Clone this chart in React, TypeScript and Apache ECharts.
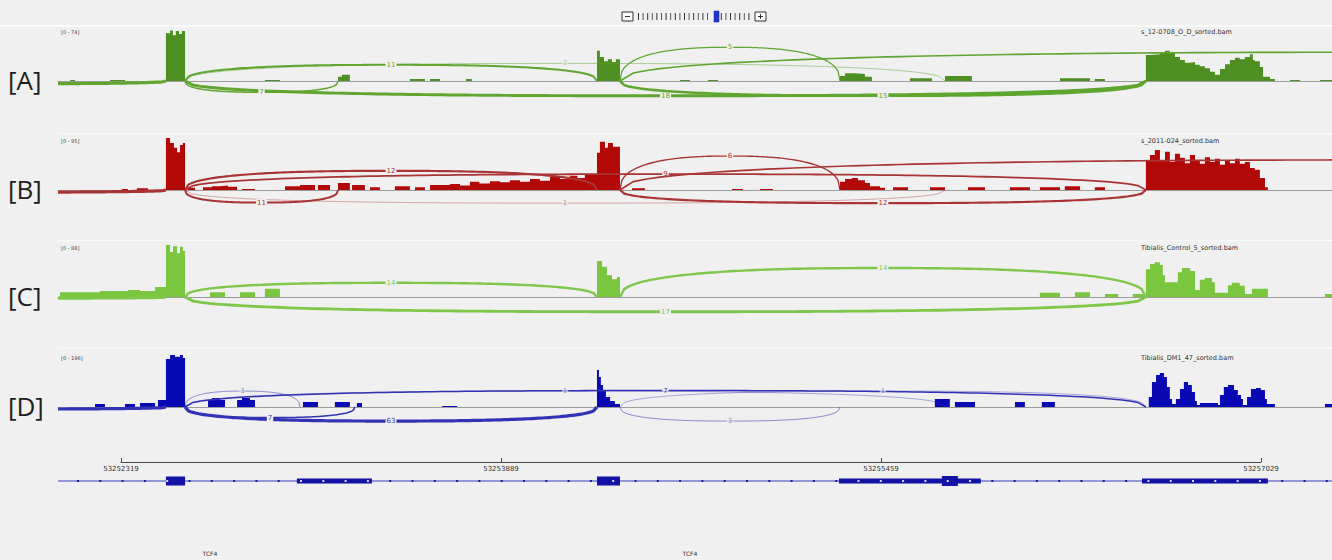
import React, { useEffect, useRef } from "react";
import * as echarts from "echarts";

// ---------------- data ----------------
const X_MIN = 53252059;
const X_MAX = 53257323;
const RULER_TICKS = [53252319, 53253889, 53255459, 53257029];
const TRACK_TAGS = ["[A]", "[B]", "[C]", "[D]"];
const TRACK_NAMES = [
  "s_12-0708_O_D_sorted.bam",
  "s_2011-024_sorted.bam",
  "Tibialis_Control_5_sorted.bam",
  "Tibialis_DM1_47_sorted.bam",
];
const DATA_RANGE_MAX = [74, 95, 88, 196];
const GENE_NAMES = ["TCF4", "TCF4"];

// coverage: [genomic position, read depth] (depth holds until the next position)
const COVERAGE_A = [
  [53252059, 0], [53252109, 1.5], [53252129, 0], [53252274, 1.5], [53252336, 0],
  [53252505, 68], [53252522, 72], [53252534, 65], [53252546, 71], [53252559, 67], [53252571, 71], [53252584, 0],
  [53252914, 1.5], [53252976, 0], [53253216, 6], [53253232, 9], [53253265, 0],
  [53253513, 3], [53253575, 0], [53253596, 3], [53253637, 0], [53253745, 3], [53253769, 0],
  [53254286, 43], [53254298, 34], [53254315, 28], [53254331, 31], [53254348, 27], [53254364, 31], [53254381, 0],
  [53254629, 1.5], [53254670, 0], [53254745, 1.5], [53254786, 0],
  [53255290, 7], [53255311, 11], [53255352, 10], [53255393, 6], [53255422, 0],
  [53255579, 4], [53255670, 0], [53255724, 7], [53255835, 0],
  [53256199, 4], [53256323, 0], [53256343, 3], [53256385, 0],
  [53256554, 37], [53256571, 38], [53256612, 40], [53256633, 43], [53256653, 41], [53256674, 34],
  [53256695, 30], [53256715, 26], [53256736, 27], [53256757, 23], [53256777, 21], [53256798, 18],
  [53256819, 13], [53256839, 9], [53256860, 17], [53256881, 24], [53256901, 30], [53256922, 33],
  [53256942, 31], [53256963, 34], [53256984, 38], [53256996, 30], [53257004, 28], [53257025, 20],
  [53257038, 6], [53257067, 3], [53257087, 0], [53257149, 1.5], [53257190, 0], [53257273, 1.5], [53257323, 1.5],
];
const COVERAGE_B = [
  [53252059, 0], [53252323, 2], [53252348, 0], [53252385, 3], [53252431, 0],
  [53252505, 95], [53252522, 86], [53252538, 77], [53252551, 69], [53252563, 82], [53252575, 86], [53252584, 0],
  [53252596, 4], [53252625, 0], [53252658, 5], [53252695, 7], [53252728, 8], [53252761, 6], [53252799, 0],
  [53252819, 2], [53252873, 0], [53252997, 7], [53253059, 9], [53253121, 0], [53253133, 9], [53253183, 0],
  [53253216, 13], [53253265, 0], [53253274, 9], [53253327, 0], [53253348, 5], [53253389, 0],
  [53253451, 7], [53253513, 0], [53253534, 5], [53253575, 0],
  [53253596, 9], [53253679, 11], [53253720, 8], [53253761, 15], [53253800, 12], [53253844, 16], [53253885, 14],
  [53253926, 18], [53253968, 15], [53254009, 20], [53254050, 17], [53254092, 24], [53254133, 20],
  [53254174, 26], [53254205, 22], [53254236, 28],
  [53254286, 68], [53254298, 88], [53254319, 77], [53254331, 86], [53254352, 79], [53254381, 0],
  [53254431, 3], [53254484, 0], [53254844, 2], [53254889, 0], [53254959, 2], [53255013, 0],
  [53255290, 15], [53255311, 20], [53255339, 22], [53255364, 18], [53255393, 13], [53255414, 7], [53255455, 4], [53255476, 0],
  [53255509, 5], [53255571, 0], [53255662, 5], [53255724, 0], [53255819, 5], [53255889, 0],
  [53255992, 5], [53256075, 0], [53256116, 5], [53256199, 0], [53256219, 7], [53256282, 0], [53256343, 5], [53256385, 0],
  [53256554, 55], [53256571, 64], [53256591, 73], [53256612, 55], [53256633, 70], [53256653, 51], [53256674, 66],
  [53256695, 59], [53256715, 49], [53256736, 64], [53256757, 55], [53256777, 48], [53256798, 60], [53256819, 51],
  [53256839, 57], [53256860, 46], [53256881, 55], [53256901, 49], [53256922, 57], [53256942, 48], [53256963, 51],
  [53256984, 40], [53257004, 37], [53257025, 22], [53257046, 5], [53257058, 0], [53257323, 0],
];
const COVERAGE_C = [
  [53252059, 0], [53252067, 8], [53252233, 10], [53252348, 12], [53252398, 10], [53252460, 17],
  [53252505, 88], [53252522, 76], [53252534, 86], [53252551, 74], [53252563, 85], [53252575, 78], [53252584, 0],
  [53252687, 8], [53252749, 0], [53252811, 8], [53252873, 0], [53252914, 14], [53252976, 0],
  [53254286, 61], [53254307, 51], [53254327, 37], [53254348, 30], [53254369, 34], [53254381, 0],
  [53256116, 7], [53256199, 0], [53256261, 8], [53256323, 0], [53256385, 5], [53256439, 0], [53256500, 5],
  [53256554, 47], [53256571, 56], [53256591, 59], [53256612, 54], [53256624, 37], [53256633, 25], [53256686, 42],
  [53256703, 49], [53256736, 44], [53256757, 12], [53256777, 29], [53256798, 32], [53256827, 25], [53256839, 7],
  [53256893, 20], [53256909, 24], [53256942, 19], [53256963, 5], [53256992, 14], [53257058, 0],
  [53257294, 5], [53257323, 5],
];
const COVERAGE_D = [
  [53252059, 0], [53252212, 11], [53252253, 0], [53252336, 11], [53252377, 0], [53252398, 15], [53252460, 0],
  [53252472, 26], [53252505, 181], [53252522, 196], [53252542, 189], [53252563, 196], [53252575, 185], [53252584, 0],
  [53252679, 26], [53252695, 34], [53252728, 26], [53252749, 0], [53252799, 26], [53252819, 34], [53252852, 26], [53252873, 0],
  [53253071, 19], [53253133, 0], [53253203, 19], [53253265, 0], [53253294, 15], [53253315, 0], [53253646, 4], [53253708, 0],
  [53254286, 139], [53254294, 113], [53254302, 83], [53254311, 60], [53254323, 38], [53254340, 23], [53254360, 11], [53254381, 0],
  [53255682, 30], [53255744, 0], [53255765, 19], [53255848, 0], [53256013, 19], [53256054, 0], [53256124, 19], [53256178, 0],
  [53256566, 38], [53256579, 94], [53256596, 121], [53256612, 128], [53256629, 113], [53256641, 75], [53256653, 30], [53256662, 11],
  [53256678, 30], [53256695, 68], [53256711, 94], [53256728, 83], [53256744, 57], [53256757, 23], [53256765, 8], [53256777, 15],
  [53256852, 8], [53256860, 45], [53256876, 75], [53256893, 83], [53256918, 64], [53256934, 45], [53256947, 30], [53256955, 8],
  [53256972, 38], [53256988, 68], [53257009, 72], [53257029, 64], [53257046, 30], [53257054, 11], [53257087, 0],
  [53257294, 11], [53257323, 11],
];

// junctions: [donor, acceptor, split reads, arc height in depth units (negative = drawn below)]
const JUNCTIONS_A = [
  [53250900, 53252505, 20, -4],
  [53252584, 53256554, 18, -21],
  [53254381, 53256554, 15, -21],
  [53252584, 53255724, 2, 25],
  [53252584, 53254286, 11, 23],
  [53252584, 53253216, 7, -16],
  [53254381, 53255290, 5, 48],
  [53254381, 53261000, 8, 41],
];
const JUNCTIONS_B = [
  [53250900, 53252505, 20, -4],
  [53252584, 53256554, 9, 29],
  [53252584, 53254286, 12, 35],
  [53252584, 53255724, 1, -24],
  [53254381, 53256554, 12, -24],
  [53252584, 53253216, 11, -23],
  [53254381, 53255290, 6, 62],
  [53254381, 53261000, 8, 55],
];
const JUNCTIONS_C = [
  [53250900, 53252505, 20, -2],
  [53252584, 53256554, 17, -25],
  [53252584, 53254286, 14, 24],
  [53254381, 53256554, 14, 49],
];
const JUNCTIONS_D = [
  [53250900, 53252505, 30, -8],
  [53252584, 53256554, 7, 62],
  [53252584, 53255724, 1, 60],
  [53254381, 53256554, 1, 60],
  [53252584, 53253059, 3, 60],
  [53252584, 53254286, 63, -53],
  [53252584, 53253286, 7, -40],
  [53254381, 53255290, 3, -53],
];

// gene model exons: [start, end, kind] (0 = UTR/thin, 1 = coding, 2 = coding thick)
const EXONS = [
  [53252505, 53252584, 1],
  [53253046, 53253356, 0],
  [53254286, 53254381, 1],
  [53255286, 53255872, 0],
  [53255711, 53255777, 2],
  [53256538, 53257058, 0],
];

// ---------------- styles ----------------
const BG = "#f0f0f0";
const COV_COLORS = ["#4e8f22", "#b20808", "#7ac63e", "#0a0ab4"];
const ARC_COLORS = ["#5ea62f", "#a83434", "#7dc84a", "#3232b4"];
const TRACK_TOPS = [29, 138, 245, 355];
const TRACK_H = 78;
const ARC_P = 2.5;
const GENE_COLOR = "#1212a6";

const coverages = [COVERAGE_A, COVERAGE_B, COVERAGE_C, COVERAGE_D];
const junctions = [JUNCTIONS_A, JUNCTIONS_B, JUNCTIONS_C, JUNCTIONS_D];

function makeArc(color: string) {
  return (params: any, api: any) => {
    const s = api.value(0);
    const e = api.value(1);
    const c = api.value(2);
    const h = api.value(3);
    const p0 = api.coord([s, 0]);
    const p1 = api.coord([e, 0]);
    const pk = api.coord([s, h]);
    const dy = pk[1] - p0[1];
    const pts: number[][] = [];
    const N = 120;
    for (let i = 0; i <= N; i++) {
      const u = i / N;
      const k = Math.pow(Math.max(0, 1 - Math.pow(Math.abs(2 * u - 1), ARC_P)), 1 / ARC_P);
      pts.push([p0[0] + (p1[0] - p0[0]) * u, p0[1] + dy * k]);
    }
    const w = Math.min(3.2, 0.6 + c * 0.13);
    const op = c <= 3 ? 0.55 : 1;
    const mx = (p0[0] + p1[0]) / 2;
    const my = p0[1] + dy;
    const cs = params.coordSys;
    const children: any[] = [
      {
        type: "polyline",
        shape: { points: pts },
        style: { stroke: color, lineWidth: w, fill: "none", opacity: op },
      },
    ];
    if (mx > cs.x + 8 && mx < cs.x + cs.width - 8) {
      children.push({
        type: "text",
        x: mx,
        y: my,
        style: {
          text: String(c),
          fill: color,
          fontSize: 7,
          fontFamily: "DejaVu Sans",
          align: "center",
          verticalAlign: "middle",
          textAlign: "center",
          textVerticalAlign: "middle",
          backgroundColor: BG,
          padding: [0, 1],
          opacity: op,
        },
      });
    }
    return { type: "group", children };
  };
}

function buildOption(): any {
  const grid: any[] = [];
  const xAxis: any[] = [];
  const yAxis: any[] = [];
  const series: any[] = [];
  const graphic: any[] = [];

  TRACK_TOPS.forEach((top, i) => {
    grid.push({ left: 58, right: 0, top, height: TRACK_H });
    xAxis.push({
      gridIndex: i,
      type: "value",
      min: X_MIN,
      max: X_MAX,
      axisLine: { show: true, onZero: true, lineStyle: { color: "#9c9c9c", width: 1 } },
      axisTick: { show: false },
      axisLabel: { show: false },
      splitLine: { show: false },
    });
    yAxis.push({
      gridIndex: i,
      type: "value",
      min: -DATA_RANGE_MAX[i] / 2,
      max: DATA_RANGE_MAX[i],
      show: false,
      splitLine: { show: false },
    });
    series.push({
      type: "line",
      xAxisIndex: i,
      yAxisIndex: i,
      data: coverages[i],
      step: "end",
      symbol: "none",
      silent: true,
      lineStyle: { width: 0, opacity: 0 },
      areaStyle: { color: COV_COLORS[i], opacity: 1 },
      z: 2,
    });
    series.push({
      type: "custom",
      xAxisIndex: i,
      yAxisIndex: i,
      data: junctions[i],
      encode: { x: [0, 1], y: 3 },
      renderItem: makeArc(ARC_COLORS[i]),
      clip: true,
      silent: true,
      z: 3,
    });
  });

  // ruler
  grid.push({ left: 121, width: 1140, top: 440, height: 22 });
  xAxis.push({
    gridIndex: 4,
    type: "value",
    position: "bottom",
    min: RULER_TICKS[0],
    max: RULER_TICKS[RULER_TICKS.length - 1],
    axisLine: { show: true, onZero: false, lineStyle: { color: "#4a4a4a", width: 1 } },
    axisTick: { show: true, inside: true, length: 4, customValues: RULER_TICKS, lineStyle: { color: "#4a4a4a" } },
    axisLabel: {
      show: true,
      customValues: RULER_TICKS,
      formatter: (v: number) => String(v),
      fontSize: 7,
      fontFamily: "DejaVu Sans",
      color: "#333",
      margin: 3,
    },
    splitLine: { show: false },
  });
  yAxis.push({ gridIndex: 4, type: "value", min: 0, max: 1, show: false });

  // gene track
  grid.push({ left: 58, right: 0, top: 470, height: 22 });
  xAxis.push({ gridIndex: 5, type: "value", min: X_MIN, max: X_MAX, show: false });
  yAxis.push({ gridIndex: 5, type: "value", min: 0, max: 1, show: false });
  series.push({
    type: "custom",
    xAxisIndex: 5,
    yAxisIndex: 5,
    data: [[X_MIN, X_MAX]],
    encode: { x: [0, 1] },
    silent: true,
    z: 1,
    renderItem: (params: any, api: any) => {
      const a = api.coord([api.value(0), 0.5]);
      const b = api.coord([api.value(1), 0.5]);
      return {
        type: "line",
        shape: { x1: a[0], y1: a[1], x2: b[0], y2: b[1] },
        style: { stroke: "#3a3ac4", lineWidth: 1 },
      };
    },
  });
  series.push({
    type: "custom",
    xAxisIndex: 5,
    yAxisIndex: 5,
    data: EXONS,
    encode: { x: [0, 1] },
    silent: true,
    z: 2,
    renderItem: (params: any, api: any) => {
      const a = api.coord([api.value(0), 0.5]);
      const b = api.coord([api.value(1), 0.5]);
      const kind = api.value(2);
      const hh = kind === 2 ? 10 : kind === 1 ? 9 : 5;
      return {
        type: "rect",
        shape: { x: a[0], y: a[1] - hh / 2, width: b[0] - a[0], height: hh },
        style: { fill: GENE_COLOR },
      };
    },
  });
  series.push({
    type: "custom",
    xAxisIndex: 5,
    yAxisIndex: 5,
    data: [[X_MIN, X_MAX]],
    encode: { x: [0, 1] },
    silent: true,
    z: 3,
    renderItem: (params: any, api: any) => {
      const a = api.coord([api.value(0), 0.5]);
      const b = api.coord([api.value(1), 0.5]);
      const exPx = EXONS.map((ex) => [api.coord([ex[0], 0.5])[0], api.coord([ex[1], 0.5])[0]]);
      const children: any[] = [];
      for (let x = a[0] + 20; x < b[0]; x += 22.3) {
        const inside = exPx.some((r) => x > r[0] + 1 && x < r[1] - 1);
        children.push({
          type: "rect",
          shape: { x: x - 1, y: a[1] - 1, width: 2, height: 2 },
          style: { fill: inside ? "#d8d8f4" : "#1a1aa0" },
        });
      }
      return { type: "group", children };
    },
  });

  // ---- decorations ----
  graphic.push({ type: "rect", shape: { x: 0, y: 25, width: 1332, height: 2 }, style: { fill: "#fafafa" }, silent: true });
  [133, 240, 347].forEach((y) =>
    graphic.push({ type: "rect", shape: { x: 58, y, width: 1274, height: 1 }, style: { fill: "#f8f8f8" }, silent: true })
  );
  graphic.push({ type: "rect", shape: { x: 622, y: 12, width: 11, height: 9 }, style: { fill: "#fafafa", stroke: "#333", lineWidth: 1 } });
  graphic.push({ type: "line", shape: { x1: 625, y1: 16.5, x2: 630, y2: 16.5 }, style: { stroke: "#333", lineWidth: 1 } });
  for (let i = 0; i < 25; i++) {
    const x = 638.5 + i * 4.6;
    if (x > 712 && x < 721) continue;
    graphic.push({
      type: "line",
      shape: { x1: x, y1: 13, x2: x, y2: 20 },
      style: { stroke: i % 2 ? "#555" : "#333", lineWidth: 1 },
    });
  }
  graphic.push({ type: "rect", shape: { x: 714, y: 11, width: 5, height: 11 }, style: { fill: "#2036d4", stroke: "#1a237e", lineWidth: 0.5 } });
  graphic.push({ type: "rect", shape: { x: 755, y: 12, width: 11, height: 9 }, style: { fill: "#fafafa", stroke: "#333", lineWidth: 1 } });
  graphic.push({ type: "line", shape: { x1: 758, y1: 16.5, x2: 763, y2: 16.5 }, style: { stroke: "#333", lineWidth: 1 } });
  graphic.push({ type: "line", shape: { x1: 760.5, y1: 14, x2: 760.5, y2: 19 }, style: { stroke: "#333", lineWidth: 1 } });

  const baselines = [81, 190, 297, 407];
  TRACK_TAGS.forEach((tag, i) => {
    graphic.push({
      type: "text",
      x: 8,
      y: baselines[i] - 1,
      style: {
        text: tag,
        fontSize: 26,
        fontFamily: "Open Sans",
        fill: "#1e1e1e",
        align: "left",
        verticalAlign: "middle",
        textAlign: "left",
        textVerticalAlign: "middle",
      },
    });
    graphic.push({
      type: "text",
      x: 61,
      y: TRACK_TOPS[i] + 3,
      style: {
        text: "[0 - " + DATA_RANGE_MAX[i] + "]",
        fontSize: 5,
        fontFamily: "DejaVu Sans",
        fill: "#444",
        align: "left",
        verticalAlign: "middle",
        textAlign: "left",
        textVerticalAlign: "middle",
      },
    });
    graphic.push({
      type: "text",
      x: 1141,
      y: TRACK_TOPS[i] + 3,
      style: {
        text: TRACK_NAMES[i],
        fontSize: 6.5,
        fontFamily: "DejaVu Sans",
        fill: "#333",
        align: "left",
        verticalAlign: "middle",
        textAlign: "left",
        textVerticalAlign: "middle",
      },
    });
  });
  [210, 690].forEach((x, i) =>
    graphic.push({
      type: "text",
      x,
      y: 553,
      style: {
        text: GENE_NAMES[i],
        fontSize: 6,
        fontFamily: "DejaVu Sans",
        fill: "#333",
        align: "center",
        verticalAlign: "middle",
        textAlign: "center",
        textVerticalAlign: "middle",
      },
    })
  );

  return {
    animation: false,
    backgroundColor: BG,
    grid,
    xAxis,
    yAxis,
    series,
    graphic,
  };
}

export default function App() {
  const ref = useRef<HTMLDivElement>(null);
  useEffect(() => {
    if (!ref.current) return;
    const chart = echarts.init(ref.current, undefined, { renderer: "svg" });
    chart.setOption(buildOption());
    return () => chart.dispose();
  }, []);
  return (
    <div
      ref={ref}
      style={{ position: "absolute", left: 0, top: 0, width: 1332, height: 560, background: BG }}
    />
  );
}
